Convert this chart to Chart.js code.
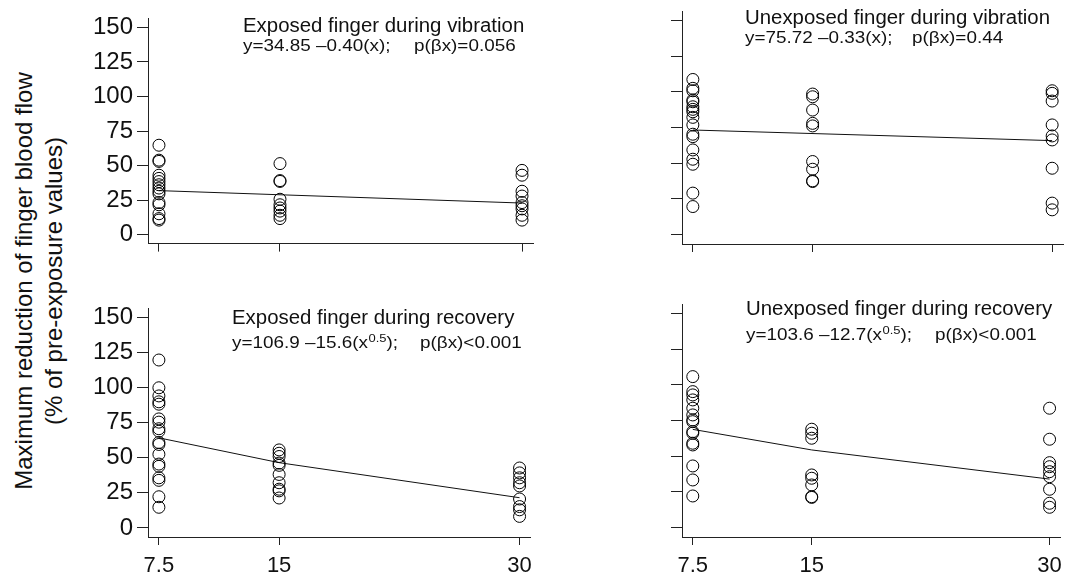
<!DOCTYPE html>
<html>
<head>
<meta charset="utf-8">
<script src="https://cdn.jsdelivr.net/npm/chart.js@4.4.1/dist/chart.umd.min.js"></script>
<style>
  body {
    margin: 0;
    background: #fff;
    width: 1070px;
    height: 579px;
    position: relative;
    overflow: hidden;
    font-family: "Liberation Sans", Arial, sans-serif;
  }
  canvas { position: absolute; }
  #ytitle {
    position: absolute;
    left: -181px;
    top: 251px;
    width: 440px;
    height: 60px;
    line-height: 30px;
    font-size: 24px;
    color: #111;
    text-align: center;
    white-space: nowrap;
    transform: rotate(-90deg);
    transform-origin: center;
  }
</style>
</head>
<body>
<div id="ytitle">Maximum reduction of finger blood flow<br>(% of pre-exposure values)</div>
<canvas id="expVib" width="480" height="262" style="left:60px;top:0px"></canvas>
<canvas id="unexpVib" width="476" height="262" style="left:594px;top:0px"></canvas>
<canvas id="expRec" width="480" height="289" style="left:60px;top:290px"></canvas>
<canvas id="unexpRec" width="476" height="289" style="left:594px;top:290px"></canvas>
<script>
// exposure levels on the x axis, and the y tick values
const doses = [7.5, 15, 30];
const yTicks = [0, 25, 50, 75, 100, 125, 150];

// exposed finger, during vibration
const expVib75 = [64.7, 53.9, 53.0, 43.0, 40.7, 38.4, 36.1, 33.7, 31.4, 29.5, 23.2, 21.6, 15.1, 11.6, 10.5];
const expVib15 = [51.4, 39.1, 38.5, 25.6, 21.6, 19.3, 17.0, 14.0, 11.6];
const expVib30 = [46.5, 43.0, 31.4, 27.9, 23.2, 20.9, 18.6, 14.0, 10.5];
const expVibFit = [31.85, 22.85];

// unexposed finger, during vibration
const unexpVib75 = [108.6, 102.4, 100.7, 94.2, 93.0, 89.5, 87.7, 86.0, 82.1, 76.8, 70.3, 68.6, 59.3, 52.8, 49.3, 29.1, 19.7];
const unexpVib15 = [98.4, 96.5, 87.2, 77.9, 76.1, 51.2, 45.8, 37.7, 37.2];
const unexpVib30 = [100.7, 98.9, 93.5, 76.8, 69.1, 66.3, 46.5, 22.1, 17.4];
const unexpVibFit = [73.25, 65.82];

// exposed finger, during recovery
const expRec75 = [119.7, 99.9, 94.1, 89.9, 88.2, 77.7, 75.4, 70.7, 68.9, 60.9, 59.5, 52.5, 45.5, 43.9, 35.7, 33.9, 22.2, 14.7];
const expRec15 = [55.6, 53.2, 50.9, 46.2, 44.6, 38.1, 32.2, 27.6, 26.4, 21.3];
const expRec30 = [42.7, 39.2, 35.7, 32.2, 29.9, 20.6, 15.2, 12.9, 8.2];
const expRecFit = [64.2, 46.5, 21.5];

// unexposed finger, during recovery
const unexpRec75 = [105.7, 95.2, 92.9, 89.4, 83.6, 78.9, 75.4, 74.2, 67.2, 66.1, 59.1, 57.9, 43.2, 33.4, 22.2];
const unexpRec15 = [68.9, 66.1, 62.6, 36.9, 34.6, 29.9, 21.7, 21.2];
const unexpRec30 = [83.6, 61.9, 45.5, 42.7, 39.2, 35.7, 26.9, 17.1, 14.3];
const unexpRecFit = [68.8, 54.4, 34.0];

const titles = [
  "Exposed finger during vibration",
  "Unexposed finger during vibration",
  "Exposed finger during recovery",
  "Unexposed finger during recovery",
];
const equations = ["y=34.85 \u20130.40(x);", "y=75.72 \u20130.33(x);", "y=106.9 \u201315.6(x", "y=103.6 \u201312.7(x"];
const pValues = ["p(\u03b2x)=0.056", "p(\u03b2x)=0.44", "p(\u03b2x)<0.001", "p(\u03b2x)<0.001"];

const FONT = '"Liberation Sans", Arial, sans-serif';
const AXIS = "#222";

// draws text squeezed/stretched sideways, returns the drawn width
const drawStretched = (ctx, str, x, y, sx) => {
  ctx.save();
  ctx.translate(x, y);
  ctx.scale(sx, 1);
  ctx.fillText(str, 0, 0);
  ctx.restore();
  return ctx.measureText(str).width * sx;
};

// panel heading + regression equation, placed from the chart area corner
const panelText = {
  id: "panelText",
  afterDraw(chart, _args, o) {
    const { ctx, chartArea: a } = chart;
    const sx = 1.18;
    ctx.save();
    ctx.fillStyle = "#111";
    ctx.textAlign = "left";
    ctx.textBaseline = "alphabetic";
    ctx.font = "20px " + FONT;
    drawStretched(ctx, o.title, a.left + o.dx, a.top + o.titleY, 1.02);

    let x = a.left + o.dx;
    const y = a.top + o.eqY;
    ctx.font = "16px " + FONT;
    x += drawStretched(ctx, o.eq, x, y, sx);
    if (o.sup) {
      ctx.font = "11px " + FONT;
      x += drawStretched(ctx, o.sup, x + 0.5, y - 6, sx) + 0.5;
      ctx.font = "16px " + FONT;
      drawStretched(ctx, ");", x, y, sx);
    }
    drawStretched(ctx, o.p, a.left + o.px, y, sx);
    ctx.restore();
  },
};

const toPoints = (cols) =>
  cols.flatMap((vals, i) => vals.map((v) => ({ x: doses[i], y: v })));

const makePanel = (id, cols, fit, cfg) => {
  const fitX = fit.length === 2 ? [doses[0], doses[2]] : doses;
  return new Chart(document.getElementById(id), {
    type: "scatter",
    data: {
      datasets: [
        {
          data: toPoints(cols),
          pointStyle: "circle",
          pointRadius: 6,
          pointHoverRadius: 6,
          pointBorderWidth: 1,
          pointBorderColor: "#000",
          pointBackgroundColor: "rgba(0,0,0,0)",
        },
        {
          type: "line",
          data: fitX.map((x, i) => ({ x, y: fit[i] })),
          borderColor: "#111",
          borderWidth: 1,
          pointRadius: 0,
          fill: false,
        },
      ],
    },
    options: {
      responsive: false,
      animation: false,
      events: [],
      layout: { padding: { top: cfg.top, right: cfg.right, left: 0, bottom: 0 } },
      plugins: {
        legend: { display: false },
        tooltip: { enabled: false },
        panelText: cfg.text,
      },
      scales: {
        x: {
          type: "linear",
          min: 6.82,
          max: 30.68,
          afterBuildTicks: (s) => {
            s.ticks = doses.map((v) => ({ value: v }));
          },
          afterFit: (s) => {
            s.height = cfg.xH;
          },
          ticks: {
            display: cfg.xLabels,
            callback: (v) => String(v),
            font: { family: FONT, size: 22 },
            color: "#111",
            padding: 8,
            maxRotation: 0,
          },
          grid: { drawOnChartArea: false, drawTicks: true, tickLength: 8, color: AXIS },
          border: { display: true, color: AXIS, width: 1 },
        },
        y: {
          min: -6.5,
          max: 156.5,
          afterBuildTicks: (s) => {
            s.ticks = yTicks.map((v) => ({ value: v }));
          },
          afterFit: (s) => {
            s.width = 88;
          },
          ticks: {
            display: cfg.yLabels,
            font: { family: FONT, size: 24 },
            color: "#111",
            padding: 4,
          },
          grid: { drawOnChartArea: false, drawTicks: true, tickLength: 11, color: AXIS },
          border: { display: true, color: AXIS, width: 1 },
        },
      },
    },
    plugins: [panelText],
  });
};

makePanel("expVib", [expVib75, expVib15, expVib30], expVibFit, {
  top: 11, right: 7, xH: 18, xLabels: false, yLabels: true,
  text: { title: titles[0], eq: equations[0], p: pValues[0], dx: 95, titleY: 14, eqY: 33, px: 266 },
});
makePanel("unexpVib", [unexpVib75, unexpVib15, unexpVib30], unexpVibFit, {
  top: 11, right: 3, xH: 18, xLabels: false, yLabels: false,
  text: { title: titles[1], eq: equations[1], p: pValues[1], dx: 63, titleY: 12.5, eqY: 32, px: 230 },
});
makePanel("expRec", [expRec75, expRec15, expRec30], expRecFit, {
  top: 14, right: 7, xH: 42, xLabels: true, yLabels: true,
  text: { title: titles[2], eq: equations[2], sup: "0.5", p: pValues[2], dx: 84, titleY: 16, eqY: 40, px: 272 },
});
makePanel("unexpRec", [unexpRec75, unexpRec15, unexpRec30], unexpRecFit, {
  top: 14, right: 3, xH: 42, xLabels: true, yLabels: false,
  text: { title: titles[3], eq: equations[3], sup: "0.5", p: pValues[3], dx: 64, titleY: 11, eqY: 36, px: 253 },
});
</script>
</body>
</html>
